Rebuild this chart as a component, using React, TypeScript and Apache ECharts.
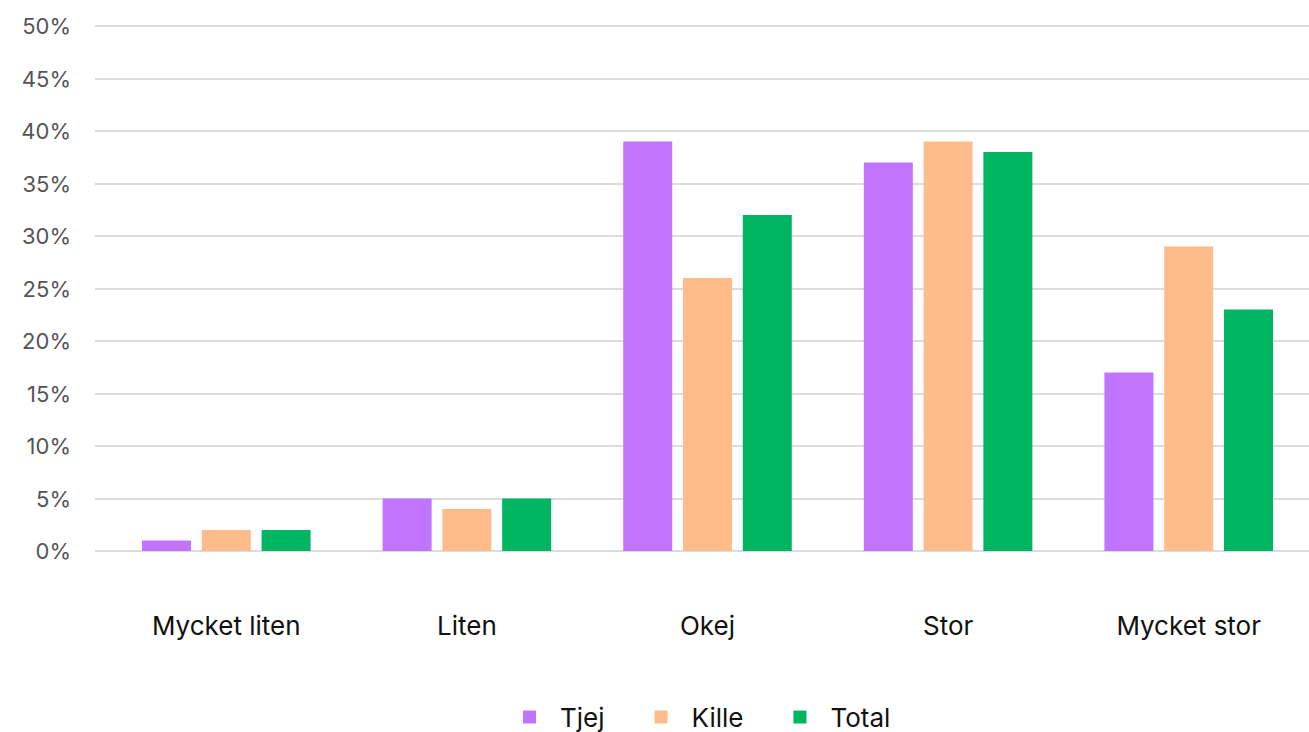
import React, { useEffect, useRef } from "react";
import * as echarts from "echarts";

const categories = ["Mycket liten", "Liten", "Okej", "Stor", "Mycket stor"];
const tjej = [1, 5, 39, 37, 17];
const kille = [2, 4, 26, 39, 29];
const total = [2, 5, 32, 38, 23];
const seriesNames = ["Tjej", "Kille", "Total"];
const colors = ["#C175FF", "#FFBC8A", "#00B562"];

const FONT = "Inter, 'Noto Sans', sans-serif";

export default function App() {
  const ref = useRef<HTMLDivElement>(null);

  useEffect(() => {
    if (!ref.current) return;
    const chart = echarts.init(ref.current, null, { renderer: "svg" });
    const values = [tjej, kille, total];

    chart.setOption({
      animation: false,
      textStyle: { fontFamily: FONT },
      grid: [
        // grid carrying the value axis, split lines and tick labels
        { left: 95, width: 1214, top: 26, bottom: 181 },
        // grid carrying the bars
        { left: 106, width: 1207, top: 26, bottom: 181 },
      ],
      legend: {
        data: seriesNames,
        left: 518,
        top: 697,
        icon: "rect",
        itemWidth: 13,
        itemHeight: 13,
        itemGap: 50,
        textStyle: {
          fontFamily: FONT,
          fontSize: 26,
          lineHeight: 30,
          color: "#111",
          padding: [0, 0, 0, 19],
        },
      },
      xAxis: [
        { type: "category", gridIndex: 0, data: categories, show: false },
        {
          type: "category",
          gridIndex: 1,
          data: categories,
          axisLine: { show: false },
          axisTick: { show: false },
          axisLabel: {
            fontFamily: FONT,
            fontSize: 26,
            color: "#111",
            margin: 61,
          },
        },
      ],
      yAxis: [
        {
          type: "value",
          gridIndex: 0,
          min: 0,
          max: 50,
          interval: 5,
          axisLine: { show: false },
          axisTick: { show: false },
          splitLine: { lineStyle: { color: "#DCDCDC", width: 2 } },
          axisLabel: {
            fontFamily: FONT,
            fontSize: 22,
            color: "#555",
            margin: 24,
            formatter: "{value}%",
          },
        },
        {
          type: "value",
          gridIndex: 1,
          min: 0,
          max: 50,
          interval: 5,
          show: false,
          splitLine: { show: false },
        },
      ],
      series: seriesNames.map((name, i) => ({
        name,
        type: "bar",
        xAxisIndex: 1,
        yAxisIndex: 1,
        data: values[i],
        barWidth: 49,
        barGap: "22%",
        itemStyle: { color: colors[i] },
      })),
    });

    return () => chart.dispose();
  }, []);

  return (
    <div
      ref={ref}
      style={{ position: "fixed", left: 0, top: 0, width: 1309, height: 732, background: "#fff" }}
    />
  );
}
